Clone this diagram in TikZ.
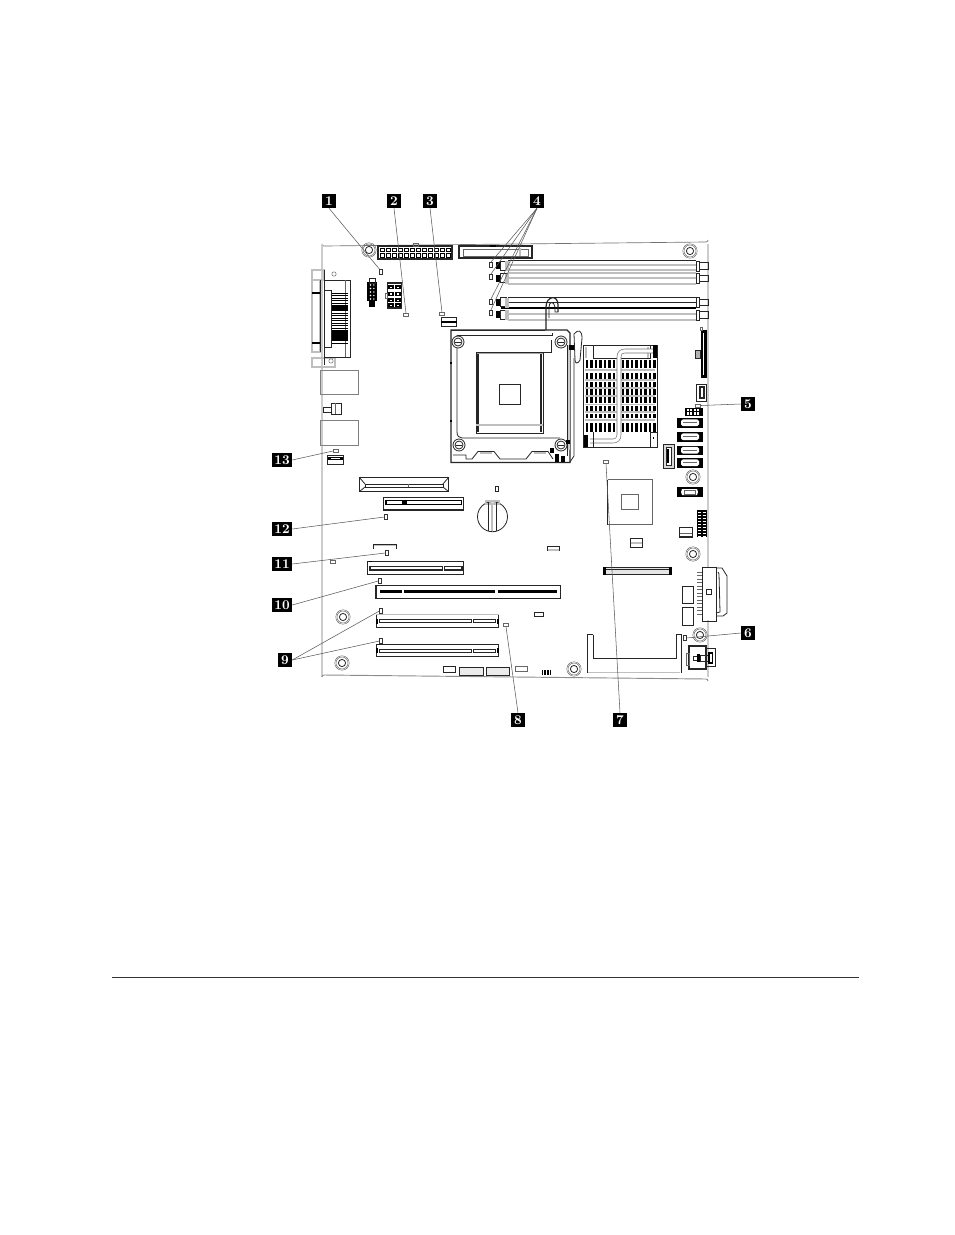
\documentclass[tikz,border=0pt]{standalone}
\usepackage{xcolor}
\usepackage{tikz}
\usetikzlibrary{calc, positioning}

\begin{document}
\begin{tikzpicture}[x=0.75pt, y=-0.75pt, auto]
		\tikzstyle{callout} = [fill=black, text=white, font=\bfseries, inner sep=0pt, minimum height=14*0.75pt, minimum width=14*0.75pt]
		\tikzstyle{wide} = [callout, minimum width=20*0.75pt]
		\tikzstyle{led} = [draw=black!80, line width=0.4pt, fill=white, inner sep=0pt, minimum width=2.8*0.75pt, minimum height=5.5*0.75pt]
		\tikzstyle{ledflat} = [led, draw=black!60, minimum width=5.5*0.75pt, minimum height=3*0.75pt]
		\tikzstyle{leader} = [draw=black!65, line width=0.4pt]
		\tikzstyle{part} = [draw=black!85, line width=0.6pt]
		\tikzstyle{thin} = [draw=black!60, line width=0.35pt]
		\tikzstyle{pale} = [draw=black!25, line width=0.9pt]

		\useasboundingbox (0, 0) rectangle (954, 1235);
		\fill[white] (0, 0) rectangle (954, 1235);

		% board and rule
		\draw[black!80, line width=0.5pt] (112, 977) -- (859, 977);
		\draw[black!55, line width=0.5pt] (322, 244) arc (180:90:2) -- (706, 242) arc (90:0:2);
		\draw[black!20, line width=1.2pt] (322, 244) -- (322, 677);
		\draw[black!20, line width=1.2pt] (708, 244) -- (708, 567) (708, 620) -- (708, 677);
		\draw[black!45, line width=0.7pt] (322, 677) arc (180:270:2) -- (706, 679) arc (-90:0:2);

		% standoffs
		\foreach \x/\y in {369/250, 690/251, 693/477, 693/554, 700/635, 574/669, 343/617, 342/663} {
			\draw[thin] (\x, \y) circle (7.2);
			\draw[thin] (\x, \y) circle (6);
			\draw[part] (\x, \y) circle (3.6);
		}

		% top connectors
		\draw[part, line width=0.8pt] (378, 246) rectangle (452, 259);
		\draw[thin] (413, 243) rectangle (418, 246);
		\foreach \i in {0,...,11} {
			\draw[black, line width=0.5pt] (380.5+\i*6, 248) rectangle +(3.6, 3.4);
			\draw[black, line width=0.5pt] (380.5+\i*6, 253.5) rectangle +(3.6, 3.4);
		}
		\draw[part, line width=0.8pt] (459, 246) rectangle (532, 258);
		\draw[thin] (463, 249) rectangle (528, 256);
		\draw[pale] (520, 248) -- (520, 256);
		\fill[black] (490, 245) rectangle (496, 247);

		% memory slots
		\foreach \y in {265, 270, 273, 278, 284, 314, 320} {
			\draw[pale] (508, \y) -- (696, \y);
		}
		\draw[part] (508, 260.7) -- (696, 260.7);
		\draw[part] (508, 297.3) -- (696, 297.3);
		\draw[part] (508, 302) -- (696, 302);
		\fill[black] (501, 307) rectangle (696, 309);
		\foreach \y in {261, 273.5, 297.5, 310} {
			\fill[black] (496, \y+1) rectangle (500, \y+8);
			\draw[part] (500, \y) rectangle (506, \y+9);
			\draw[pale] (506, \y) -- (506, \y+10) (508, \y) -- (508, \y+10);
			\draw[part] (696, \y) rectangle (699, \y+10);
			\draw[part] (699, \y+1.5) rectangle (708, \y+8);
		}

		% rear ports
		\draw[pale] (312, 270) rectangle (324, 280);
		\draw[pale] (312, 280) rectangle (320, 352);
		\draw[pale] (312, 358) rectangle (335, 367);
		\draw[part] (320.7, 280) -- (320.7, 352);
		\draw[part] (324, 270) -- (324, 365);
		\draw[part] (324, 280) rectangle (350, 357);
		\draw[part] (324, 290) rectangle (331.7, 347);
		\draw[thin] (345, 280) -- (345, 357);
		\draw[thin] (334, 274) circle (2.2);
		\draw[thin] (331, 361) circle (2.2);
		\fill[black] (312, 292) rectangle (320, 294);
		\fill[black] (312, 342) rectangle (320, 344);
		\foreach \y in {293, 295.5, ..., 343} {
			\draw[black, line width=0.6pt] (332, \y) -- (348, \y);
		}
		\fill[black] (332, 306) rectangle (348, 310);
		\fill[black] (332, 331) rectangle (348, 340);
		\draw[black!50, line width=0.5pt] (320, 370) rectangle (358, 394);
		\draw[black!50, line width=0.5pt] (320, 420) rectangle (358, 445);
		\draw[part] (323, 407) rectangle (331, 412);
		\draw[part] (331, 403) rectangle (341, 414);
		\draw[thin] (335, 403) -- (335, 414);
		\draw[part] (327.5, 455) rectangle (343.5, 464);
		\fill[black] (328, 457) rectangle (343, 460);
		\fill[white] (331, 457.7) rectangle (340, 459.2);

		% video and power headers
		\fill[black] (367, 282) rectangle (377, 301);
		\draw[part] (369, 278) rectangle (375, 283);
		\fill[black] (369, 301) rectangle (375, 306.5);
		\foreach \y in {285, 288.5, ..., 300} {
			\fill[white] (370.5, \y) circle (0.8);
			\fill[white] (373.8, \y) circle (0.8);
		}
		\draw[part, line width=0.8pt] (387.5, 283) rectangle (401.5, 308);
		\foreach \y in {285, 291.5, 298, 303} {
			\fill[black] (388, \y) rectangle (394, \y+4);
			\fill[black] (395, \y) rectangle (401, \y+4);
			\fill[white] (389.5, \y+1.5) rectangle (392, \y+3);
			\fill[white] (396.5, \y+1.5) rectangle (399, \y+3);
		}
		\draw[thin] (385, 293) rectangle (387.5, 298);
		\draw[part] (441, 317.5) rectangle (456.5, 326);
		\fill[black] (441, 320.5) rectangle (456.5, 322.5);

		% processor socket
		\draw[part, line width=0.9pt] (451, 330) -- (451, 462.5) -- (570, 462.5) -- (570, 333) -- (567, 330) -- cycle;
		\draw[part] (457, 335) -- (457, 432) .. controls (457, 436) and (459, 438) .. (462, 438) -- (560, 438);
		\draw[part] (457, 335) -- (552, 335) -- (552, 333);
		\draw[part] (451, 330) -- (545, 330);
		\draw[black!35, line width=1.3pt] (476, 353) -- (543, 353);
		\draw[part] (476, 352) rectangle (543, 433);
		\draw[part, line width=0.9pt] (478, 354) -- (478, 432);
		\draw[part, line width=0.9pt] (541, 354) -- (541, 432);
		\draw[pale] (476, 425) -- (543, 425);
		\draw[part] (499, 384) rectangle (520, 404);
		\draw[part] (551, 340) -- (551, 352) -- (543, 352);
		\foreach \x/\y in {458/342, 459/445, 561/342, 561/445} {
			\draw[part, fill=white] (\x, \y) circle (6);
			\draw[part] (\x, \y) circle (4);
			\draw[part] (\x-3, \y) -- (\x+3, \y);
		}
		\fill[black] (450, 362) rectangle (452, 364);
		\fill[black] (450, 420) rectangle (452, 422);
		\draw[part] (453, 455) -- (466, 455) -- (466, 459) -- (472, 459) -- (478, 451.5) -- (494, 451.5) -- (500, 459) -- (526, 459) -- (532, 451.5) -- (548, 451.5) -- (553, 459);
		\draw[pale] (480, 453) -- (492, 453) (534, 453) -- (546, 453);
		\fill[black] (550, 448) rectangle (553.5, 453);
		\fill[black] (555, 454) rectangle (559, 462);
		\fill[black] (561, 456) rectangle (565, 462);
		\draw[part, line width=0.9pt] (546, 330) -- (546, 307) .. controls (546, 296) and (558, 294) .. (558, 305) -- (558, 312);
		\draw[part] (549, 318) -- (549, 307) .. controls (549, 301) and (554, 301) .. (555, 307) -- (555, 312) -- (558, 312);
		\draw[part, fill=white] (574, 334) .. controls (578, 329) and (582, 330) .. (582, 338) -- (580, 360) .. controls (578, 364) and (575, 364) .. (575, 360) -- cycle;
		\draw[pale, black!20] (569, 345) -- (569, 450);
		\draw[part] (567, 345) -- (567, 456);
		\draw[part] (574, 358) -- (574, 456) -- (570, 462);
		\fill[black] (569, 345) rectangle (574, 350);
		\fill[black] (566, 440) rectangle (570, 444);

		% heatsink
		\foreach \y in {370, 380, 388, 396, 404.5, 412, 420} {
			\draw[pale] (585, \y) -- (655, \y);
		}
		\foreach \ya/\yb in {360/368, 373/378.7, 381.7/387.3, 389.3/395, 397.3/403.3, 406/410.5, 414/418.3, 422.7/431.7} {
			\foreach \x in {585.5, 590, ..., 655} {
				\fill[black] (\x, \ya) rectangle +(2.9, \yb-\ya);
			}
		}
		\draw[part] (583, 345) rectangle (657, 447);
		\draw[pale] (586, 347) -- (586, 358) (648, 347) -- (648, 358);
		\draw[part] (593, 345) -- (593, 358) -- (650, 358) -- (650, 345);
		\draw[white, line width=3pt] (654, 351) -- (625, 351) .. controls (621, 351) and (619, 353) .. (619, 357) -- (619, 435) .. controls (619, 439) and (617, 441) .. (613, 441) -- (590, 441);
		\draw[black!55, line width=0.4pt] (654, 349) -- (625, 349) .. controls (620, 349) and (617, 352) .. (617, 357) -- (617, 435) .. controls (617, 438) and (615, 439) .. (613, 439) -- (590, 439);
		\draw[black!55, line width=0.4pt] (654, 353) -- (625, 353) .. controls (622, 353) and (621, 354) .. (621, 357) -- (621, 435) .. controls (621, 440) and (618, 443) .. (613, 443) -- (590, 443);
		\fill[black] (584, 435) rectangle (588, 447);
		\fill[black] (653, 345) rectangle (657, 358);
		\draw[part] (593, 432) -- (593, 447);
		\draw[part] (650, 432) rectangle (657, 447);
		\fill[black] (653, 437) rectangle (654, 439);

		% right edge connectors
		\fill[black] (701, 330) rectangle (706.5, 378);
		\fill[white] (703, 333) rectangle (704.2, 375);
		\draw[thin] (700, 327) rectangle (702.5, 330);
		\draw[part, fill=black!30] (695, 350) rectangle (700, 358);
		\draw[part] (696, 384) rectangle (706, 401);
		\draw[part, line width=0.9pt] (700, 387) rectangle (704, 398);
		\fill[black] (685, 408) rectangle (703, 415.5);
		\foreach \x in {686.5, 690, ..., 700} {
			\fill[white] (\x, 409) rectangle +(2, 2.2);
			\fill[white] (\x, 412.3) rectangle +(2, 2.2);
		}
		\foreach \y in {418, 432, 445.5, 458} {
			\fill[black] (677, \y) rectangle (703, \y+9.5);
			\fill[white] (681, \y+3) -- (683, \y+1.3) -- (697, \y+1.3) -- (699, \y+3) -- (699, \y+6.5) -- (697, \y+8.2) -- (683, \y+8.2) -- (681, \y+6.5) -- cycle;
			\draw[thin] (683, \y+4.7) -- (697, \y+4.7);
		}
		\draw[part, fill=black!15] (663.5, 444) rectangle (674, 468);
		\draw[part, fill=white] (666, 447) rectangle (671.5, 465);
		\fill[black] (667, 449) rectangle (669, 463);
		\fill[black] (677, 487) rectangle (703, 497);
		\fill[white] (682, 489) -- (697, 489) -- (698, 492) -- (697, 495) -- (682, 495) -- (681, 492) -- cycle;
		\draw[thin] (684, 490) rectangle (695, 494);

		% chipset
		\draw[thin] (607.5, 479.5) -- (652.5, 479.5) -- (652.5, 524.5) -- (607.5, 524.5);
		\draw[part] (607.5, 479.5) -- (607.5, 524.5);
		\draw[thin] (621.5, 494.5) rectangle (638.5, 509.5);

		% lower right parts
		\fill[black] (697, 510) rectangle (706.5, 537);
		\foreach \y in {512, 515, ..., 536} {
			\draw[white, line width=0.5pt] (698, \y) -- (701, \y) (702.5, \y) -- (705.5, \y);
		}
		\draw[part, line width=0.9pt] (679.5, 527.5) rectangle (692.5, 537);
		\draw[thin] (680, 533) -- (692, 533);
		\draw[part] (630, 538.5) rectangle (642.5, 547.5);
		\draw[pale] (630.5, 543) -- (642, 543);
		\draw[part] (547.5, 546) rectangle (559.5, 550.5);
		\draw[pale] (548, 550) -- (559, 550);
		\draw[part, fill=black!10] (605, 567.5) rectangle (670, 574.5);
		\draw[part] (605, 569.5) -- (670, 569.5);
		\fill[black] (603, 566.5) rectangle (606, 575);
		\fill[black] (669, 566.5) rectangle (672, 575);
		\draw[part] (702, 567) rectangle (716, 621);
		\draw[part] (716, 568) -- (722, 568) -- (727, 576) -- (727, 613) -- (723, 616) -- (716, 616);
		\draw[part] (718, 572) -- (719, 574) -- (720, 612) -- (716, 613);
		\foreach \y in {572, 575.5, ..., 615} {
			\draw[thin] (697, \y) -- (702, \y);
		}
		\draw[part] (706, 589.5) rectangle (711.5, 594.5);
		\draw[part] (682.5, 586) rectangle (693.5, 603);
		\draw[part] (682.5, 607) rectangle (693.5, 625);

		% riser bracket
		\draw[part] (587, 634.5) -- (587, 672.5);
		\draw[part] (593, 634.5) -- (593, 658.5) -- (676, 658.5) -- (676, 634.5);
		\draw[part] (587, 634.5) -- (593, 634.5);
		\draw[part] (676, 634.5) -- (681, 634.5) -- (681, 672.5);
		\draw[pale] (588, 672.5) -- (680, 672.5);

		% power connector
		\draw[part, line width=0.8pt] (689, 646) rectangle (706, 669);
		\draw[part] (706, 648) -- (715.5, 648) -- (715.5, 666.5) -- (706, 666.5);
		\draw[thin] (686, 653) rectangle (689, 665);
		\draw[part] (693, 656) rectangle (700, 660);
		\fill[black] (697, 654) rectangle (700, 662);
		\draw[part] (700, 655) rectangle (708, 661);
		\fill[black] (708, 652) rectangle (713, 664);
		\fill[white] (709.5, 654) rectangle (711.5, 662);

		% expansion slots
		\draw[part, line width=0.8pt] (359.5, 477.5) rectangle (448.5, 491.5);
		\draw[part] (365, 484) rectangle (443, 487);
		\draw[part] (359.5, 477.5) -- (365, 484) (448.5, 477.5) -- (443, 484);
		\draw[part] (359.5, 491.5) -- (365, 487) (448.5, 491.5) -- (443, 487);
		\draw[thin] (408, 484) -- (408, 487);
		\draw[part, line width=0.8pt] (383.5, 497.5) rectangle (463.5, 510);
		\fill[black] (385, 500) rectangle (462, 505);
		\fill[white] (387, 501.3) rectangle (402, 503.8);
		\fill[white] (407, 501.3) rectangle (461, 503.8);

		\draw[part] (367.5, 561.5) rectangle (463.5, 574.5);
		\draw[part, line width=0.9pt] (370, 566.5) rectangle (442.5, 570);
		\draw[part, line width=0.9pt] (444.5, 566.5) rectangle (462, 570);
		\fill[black] (369, 560.5) rectangle (372, 562);

		\draw[part, line width=0.8pt] (376, 585.5) rectangle (560.5, 598.5);
		\fill[black] (379.5, 590) rectangle (401.5, 593);
		\fill[black] (403.5, 590) rectangle (495, 593);
		\fill[black] (497.5, 590) rectangle (557, 593);

		\foreach \y in {614.5, 644} {
			\draw[part] (376, \y+12.5) -- (498.5, \y+12.5) -- (498.5, \y) -- (376, \y) -- cycle;
			\draw[part] (379.5, \y+5) rectangle (471, \y+8);
			\draw[part] (473.5, \y+5) rectangle (495, \y+8);
			\fill[black] (376, \y+4) rectangle (377.5, \y+9);
			\fill[black] (496.5, \y+4) rectangle (498.5, \y+9);
		}
		\draw[white, line width=0.8pt] (376, 614.5) -- (498.5, 614.5);
		\draw[pale] (376, 614.5) -- (498.5, 614.5);

		% battery
		\draw[part] (492.5, 516.7) circle (15);
		\draw[pale] (485.5, 501) rectangle (499.5, 504);
		\draw[part] (488, 502) -- (488, 530.5) (496, 502) -- (496, 530.5);
		\draw[pale] (492, 503) -- (492, 531);
		\draw[part] (495, 486) rectangle (498, 491);

		% small parts
		\draw[part] (373.5, 548.5) -- (373.5, 544.5) -- (396.5, 544.5) -- (396.5, 548.5);
		\draw[pale] (374, 545.5) -- (396, 545.5);
		\draw[thin] (330, 560) rectangle (335.5, 563.5);
		\draw[part] (534, 612.5) rectangle (543.5, 616.5);
		\draw[part] (443.5, 666) rectangle (455.5, 672.5);
		\draw[part, fill=black!8] (459, 667) rectangle (483.5, 675);
		\draw[part, fill=black!8] (486, 667) rectangle (509.5, 675);
		\draw[thin, black!60] (515, 666) rectangle (527.5, 671.5);
		\fill[black] (541.5, 669.5) rectangle (551, 675);
		\foreach \x in {543.5, 546.5, 549} {
			\draw[white, line width=0.4pt] (\x, 670) -- (\x, 675);
		}

		% leds
		\node[led] 		at (381, 272) 		(led1) 	{};
		\node[ledflat] 	at (406, 315) 		(led2) 	{};
		\node[ledflat] 	at (442, 314) 		(led3) 	{};
		\node[led] 		at (491, 265) 		(led4a) {};
		\node[led] 		at (491, 277) 		(led4b) {};
		\node[led] 		at (491, 302) 		(led4c) {};
		\node[led] 		at (491, 313) 		(led4d) {};
		\node[ledflat] 	at (698, 405.5) 	(led5) 	{};
		\node[led] 		at (685, 638) 		(led6) 	{};
		\node[ledflat] 	at (606, 462) 		(led7) 	{};
		\node[ledflat] 	at (506, 625) 		(led8) 	{};
		\node[led] 		at (381, 611) 		(led9a) {};
		\node[led] 		at (381, 641) 		(led9b) {};
		\node[led] 		at (380, 581) 		(led10) {};
		\node[led] 		at (387, 553) 		(led11) {};
		\node[led] 		at (386, 517) 		(led12) {};
		\node[ledflat] 	at (336, 451) 		(led13) {};

		% callouts
		\node[callout] 	at (329, 201) 		(c1) 	{1};
		\node[callout] 	at (394, 201) 		(c2) 	{2};
		\node[callout] 	at (430, 201) 		(c3) 	{3};
		\node[callout] 	at (537, 201) 		(c4) 	{4};
		\node[callout] 	at (748, 404) 		(c5) 	{5};
		\node[callout] 	at (748, 633) 		(c6) 	{6};
		\node[callout] 	at (620, 720) 		(c7) 	{7};
		\node[callout] 	at (518, 720) 		(c8) 	{8};
		\node[callout] 	at (285, 660) 		(c9) 	{9};
		\node[wide] 	at (282, 605) 		(c10) 	{10};
		\node[wide] 	at (282, 564) 		(c11) 	{11};
		\node[wide] 	at (282, 529) 		(c12) 	{12};
		\node[wide] 	at (282, 460) 		(c13) 	{13};

		\path[leader]
		(c1.south)	edge	(led1.north west)
		(c2.south)	edge	(led2.north)
		(c3.south)	edge	(led3.north)
		(c4.south)	edge	(led4a.north)
		(c4.south)	edge	(led4b.north)
		(c4.south)	edge	(led4c.north)
		(c4.south)	edge	(led4d.north)
		(c5.west)	edge	(led5.east)
		(c6.west)	edge	(led6.east)
		(c7.north)	edge	(led7.south)
		(c8.north)	edge	(led8.south)
		(c9.east)	edge	(led9a.west)
		(c9.east)	edge	(led9b.west)
		(c10.east)	edge	(led10.west)
		(c11.east)	edge	(led11.west)
		(c12.east)	edge	(led12.west)
		(c13.east)	edge	(led13.west);
\end{tikzpicture}
\end{document}
